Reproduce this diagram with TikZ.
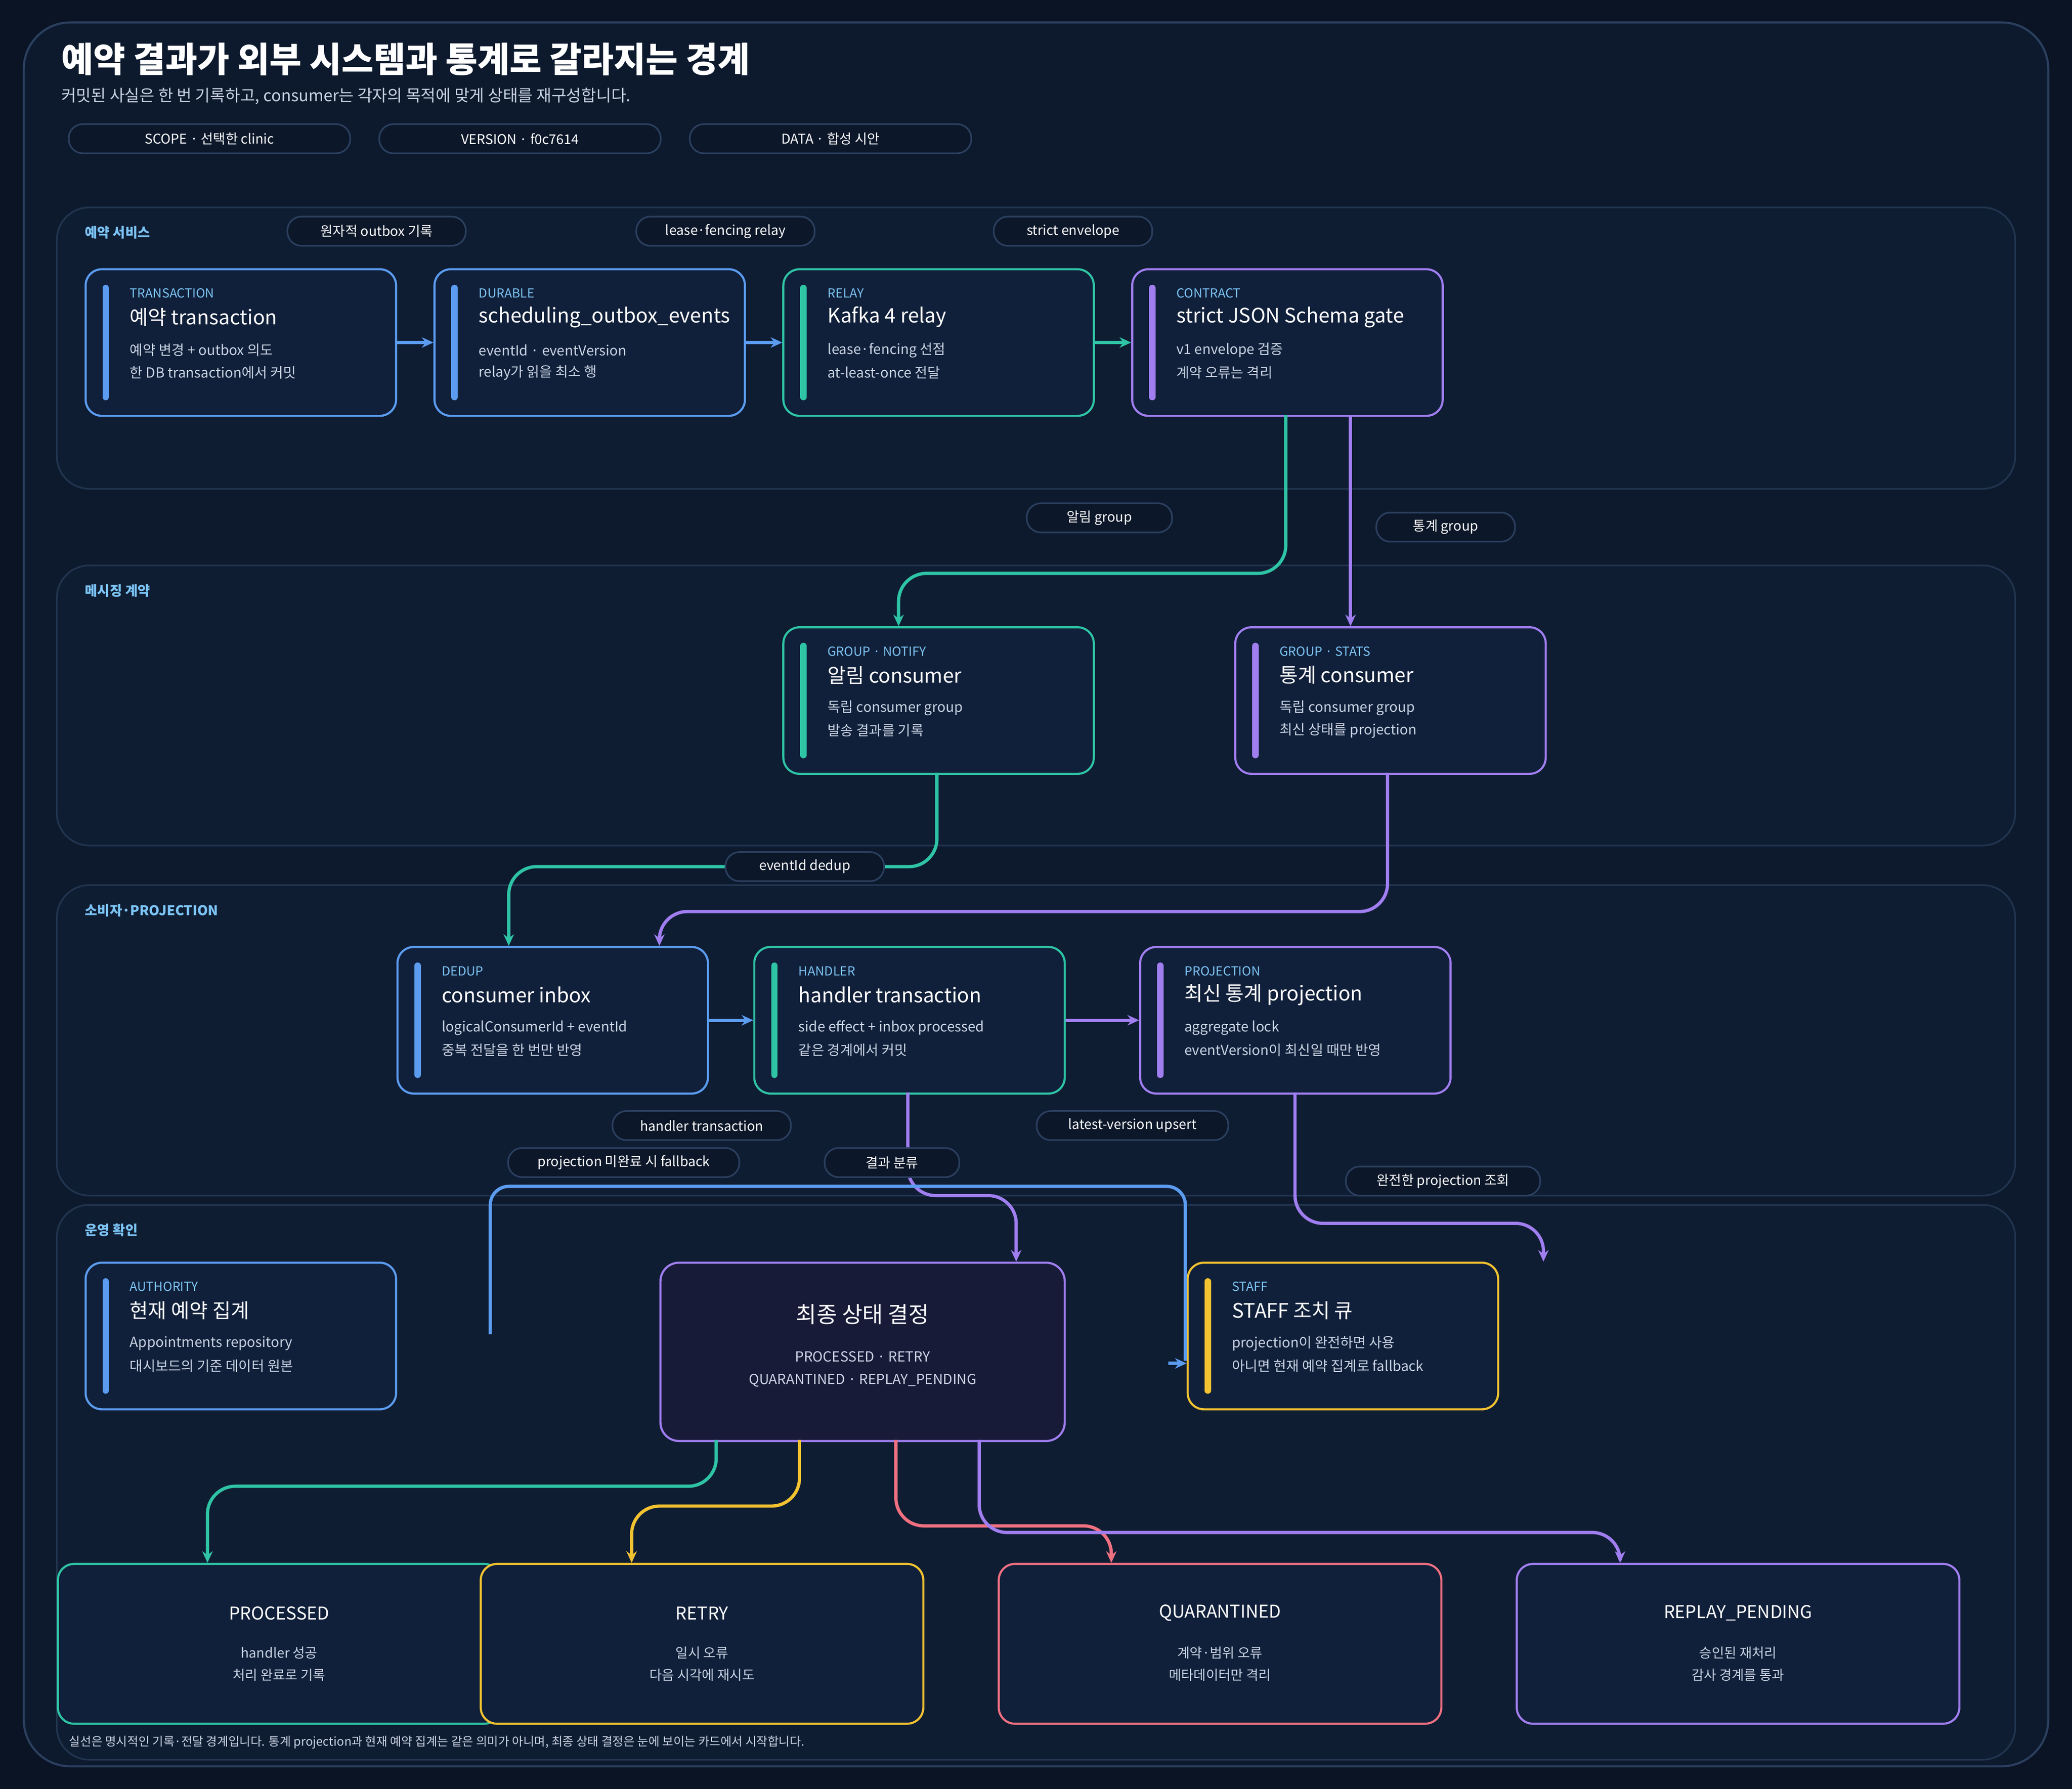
\documentclass[tikz,border=0pt]{standalone}
\usepackage{fontspec}
\setmainfont{Noto Sans CJK KR}
\usetikzlibrary{positioning,calc,arrows.meta}

\definecolor{bgdark}{HTML}{0A1424}
\definecolor{panel}{HTML}{0D1A2E}
\definecolor{panelline}{HTML}{2B3F5F}
\definecolor{lanefill}{HTML}{0F1D33}
\definecolor{lanerule}{HTML}{22354F}
\definecolor{cardfill}{HTML}{11203A}
\definecolor{pillfill}{HTML}{0C1729}
\definecolor{kick}{HTML}{7CC4F5}
\definecolor{soft}{HTML}{C9D3E3}
\definecolor{cblue}{HTML}{5B9CF0}
\definecolor{cteal}{HTML}{2EC4A5}
\definecolor{cpurple}{HTML}{A07EF0}
\definecolor{cyellow}{HTML}{F2C230}
\definecolor{cred}{HTML}{F07080}
\definecolor{finalfill}{HTML}{181B38}

\tikzset{
  lane/.style={draw=lanerule, fill=lanefill, rounded corners=14pt, line width=0.7pt},
  pill/.style={draw=panelline, fill=pillfill, rounded corners=6pt, line width=0.7pt,
    text=white, font=\fontsize{5.8}{7}\selectfont, minimum height=0.44cm, inner sep=0pt},
  card/.style={draw=#1, fill=cardfill, rounded corners=7pt, line width=0.9pt,
    minimum width=4.7cm, minimum height=2.22cm, inner sep=0pt},
  wide/.style={draw=#1, fill=cardfill, rounded corners=7pt, line width=0.9pt,
    minimum width=6.7cm, minimum height=2.42cm, inner sep=0pt},
  wire/.style={draw=#1, line width=1.4pt, rounded corners=12pt, -{Stealth[length=5pt,width=4.5pt]}},
  kicker/.style={anchor=west, text=kick, font=\fontsize{5.4}{6}\selectfont, inner sep=0pt},
  ctitle/.style={anchor=west, text=white, font=\fontsize{8.6}{10}\selectfont, inner sep=0pt},
  cbody/.style={anchor=west, text=soft, font=\fontsize{6}{7}\selectfont, inner sep=0pt},
  lanelabel/.style={anchor=west, text=kick, font=\bfseries\fontsize{5.8}{7}\selectfont, inner sep=0pt},
}

% card: name, x, y, colour, kicker, title, line 1, line 2
\newcommand\stepcard[8]{%
  \node[card=#4, anchor=north west] (#1) at (#2,#3) {};
  \draw[#4, line width=2.8pt, line cap=round] ($(#1.north west)+(16,15)$) -- ($(#1.south west)+(16,-15)$);
  \node[kicker] at ($(#1.north west)+(34,19)$) {#5};
  \node[ctitle] at ($(#1.north west)+(34,37)$) {#6};
  \node[cbody] at ($(#1.north west)+(34,62)$) {#7};
  \node[cbody] at ($(#1.north west)+(34,79)$) {#8};
}
% outcome card: name, x, colour, title, line 1, line 2
\newcommand\outcard[6]{%
  \node[wide=#3, anchor=north west] (#1) at (#2,1183) {};
  \node[text=white, font=\fontsize{7.6}{9}\selectfont] at ($(#1.north)+(0,38)$) {#4};
  \node[text=soft, font=\fontsize{5.8}{7}\selectfont] at ($(#1.north)+(0,68)$) {#5};
  \node[text=soft, font=\fontsize{5.8}{7}\selectfont] at ($(#1.north)+(0,85)$) {#6};
}

\begin{document}
\begin{tikzpicture}[x=0.02cm, y=-0.02cm]

\fill[bgdark] (0,0) rectangle (1568,1354);
\useasboundingbox (0,0) rectangle (1568,1354);
\draw[panelline, fill=panel, rounded corners=20pt, line width=0.9pt] (18,17) rectangle (1550,1337);

% -------- header -----------
\node[anchor=west, text=white, font=\bfseries\fontsize{15}{18}\selectfont, inner sep=0pt] (title) at (46,45) {예약 결과가 외부 시스템과 통계로 갈라지는 경계};
\node[anchor=west, text=soft, font=\fontsize{7}{8}\selectfont, inner sep=0pt] (subtitle) at (46,73) {커밋된 사실은 한 번 기록하고, consumer는 각자의 목적에 맞게 상태를 재구성합니다.};
\node[pill, minimum width=4.26cm] (scope) at (158.5,105) {SCOPE · 선택한 clinic};
\node[pill, minimum width=4.26cm] (version) at (393.5,105) {VERSION · f0c7614};
\node[pill, minimum width=4.26cm] (data) at (628.5,105) {DATA · 합성 시안};

% -------- lanes -----------
\draw[lane] (43,157) rectangle (1525,370);
\draw[lane] (43,428) rectangle (1525,640);
\draw[lane] (43,670) rectangle (1525,905);
\draw[lane] (43,912) rectangle (1525,1332);
\node[lanelabel] (laneA) at (64,176) {예약 서비스};
\node[lanelabel] (laneB) at (64,447) {메시징 계약};
\node[lanelabel] (laneC) at (64,689) {소비자·PROJECTION};
\node[lanelabel] (laneD) at (64,931) {운영 확인};

% -------- cards -----------
\stepcard{txn}{64}{203}{cblue}{TRANSACTION}{예약 transaction}{예약 변경 + outbox 의도}{한 DB transaction에서 커밋}
\stepcard{outbox}{328}{203}{cblue}{DURABLE}{scheduling\_outbox\_events}{eventId · eventVersion}{relay가 읽을 최소 행}
\stepcard{relay}{592}{203}{cteal}{RELAY}{Kafka 4 relay}{lease·fencing 선점}{at-least-once 전달}
\stepcard{gate}{856}{203}{cpurple}{CONTRACT}{strict JSON Schema gate}{v1 envelope 검증}{계약 오류는 격리}
\stepcard{notify}{592}{474}{cteal}{GROUP · NOTIFY}{알림 consumer}{독립 consumer group}{발송 결과를 기록}
\stepcard{stats}{934}{474}{cpurple}{GROUP · STATS}{통계 consumer}{독립 consumer group}{최신 상태를 projection}
\stepcard{inbox}{300}{716}{cblue}{DEDUP}{consumer inbox}{logicalConsumerId + eventId}{중복 전달을 한 번만 반영}
\stepcard{handler}{570}{716}{cteal}{HANDLER}{handler transaction}{side effect + inbox processed}{같은 경계에서 커밋}
\stepcard{proj}{862}{716}{cpurple}{PROJECTION}{최신 통계 projection}{aggregate lock}{eventVersion이 최신일 때만 반영}
\stepcard{authority}{64}{955}{cblue}{AUTHORITY}{현재 예약 집계}{Appointments repository}{대시보드의 기준 데이터 원본}
\stepcard{staff}{898}{955}{cyellow}{STAFF}{STAFF 조치 큐}{projection이 완전하면 사용}{아니면 현재 예약 집계로 fallback}

\node[draw=cpurple, fill=finalfill, rounded corners=8pt, line width=0.9pt, anchor=north west,
  minimum width=6.12cm, minimum height=2.7cm, inner sep=0pt] (final) at (499,955) {};
\node[text=white, font=\fontsize{9.6}{11}\selectfont] at ($(final.north)+(0,40)$) {최종 상태 결정};
\node[text=soft, font=\fontsize{6}{7}\selectfont] at ($(final.north)+(0,72)$) {PROCESSED · RETRY};
\node[text=soft, font=\fontsize{6}{7}\selectfont] at ($(final.north)+(0,90)$) {QUARANTINED · REPLAY\_PENDING};

\outcard{processed}{43}{cteal}{PROCESSED}{handler 성공}{처리 완료로 기록}
\outcard{retry}{363}{cyellow}{RETRY}{일시 오류}{다음 시각에 재시도}
\outcard{quarantined}{755}{cred}{QUARANTINED}{계약·범위 오류}{메타데이터만 격리}
\outcard{replay}{1147}{cpurple}{REPLAY\_PENDING}{승인된 재처리}{감사 경계를 통과}

% -------- connectors -----------
\draw[wire=cblue] (txn.east) -- (outbox.west);
\draw[wire=cblue] (outbox.east) -- (relay.west);
\draw[wire=cteal] (relay.east) -- (gate.west);
\draw[wire=cteal] (973,314) -- (973,434) -- (680,434) -- (680,474);
\draw[wire=cpurple] (1022,314) -- (1022,474);
\draw[wire=cteal] (709,585) -- (709,656) -- (385,656) -- (385,716);
\draw[wire=cpurple] (1050,585) -- (1050,690) -- (499,690) -- (499,716);
\draw[wire=cblue] (inbox.east) -- (handler.west);
\draw[wire=cpurple] (handler.east) -- (proj.west);
\draw[wire=cpurple] (687,827) -- (687,905) -- (769,905) -- (769,955);
\coordinate (fallbackfree) at (371,1010);
\draw[cblue, line width=1.4pt, rounded corners=8pt] (fallbackfree) -- (371,898) -- (897,898) -- (897,1030);
\draw[wire=cblue] (884,1032) -- (staff.west |- 0,1032);
\coordinate (projfree) at (1168,955);
\draw[wire=cpurple] (980,827) -- (980,926) -- (1168,926) -- (projfree);
\draw[wire=cteal] (542,1090) -- (542,1125) -- (157,1125) -- (157,1183);
\draw[wire=cyellow] (605,1090) -- (605,1140) -- (478,1140) -- (478,1183);
\draw[wire=cred] (678,1090) -- (678,1155) -- (841,1155) -- (841,1183);
\draw[wire=cpurple] (741,1090) -- (741,1160) -- (1226,1160) -- (1226,1183);

% -------- connector labels -----------
\node[pill, minimum width=2.7cm] (pAtomic) at (285,175) {원자적 outbox 기록};
\node[pill, minimum width=2.7cm] (pLease) at (549,175) {lease·fencing relay};
\node[pill, minimum width=2.4cm] (pStrict) at (812,175) {strict envelope};
\node[pill, minimum width=2.2cm] (pNotify) at (832,392) {알림 group};
\node[pill, minimum width=2.1cm] (pStats) at (1094,399) {통계 group};
\node[pill, minimum width=2.4cm] (pDedup) at (609,656) {eventId dedup};
\node[pill, minimum width=2.7cm] (pHandler) at (531,852) {handler transaction};
\node[pill, minimum width=2.9cm] (pUpsert) at (857,852) {latest-version upsert};
\node[pill, minimum width=3.5cm] (pFallback) at (472,880) {projection 미완료 시 fallback};
\node[pill, minimum width=2.04cm] (pSort) at (675,880) {결과 분류};
\node[pill, minimum width=2.94cm] (pComplete) at (1092,894) {완전한 projection 조회};

\node[anchor=west, text=soft, font=\fontsize{5.2}{7}\selectfont, inner sep=0pt] (footer) at (52,1319) {실선은 명시적인 기록·전달 경계입니다. 통계 projection과 현재 예약 집계는 같은 의미가 아니며, 최종 상태 결정은 눈에 보이는 카드에서 시작합니다.};

\end{tikzpicture}
\end{document}
